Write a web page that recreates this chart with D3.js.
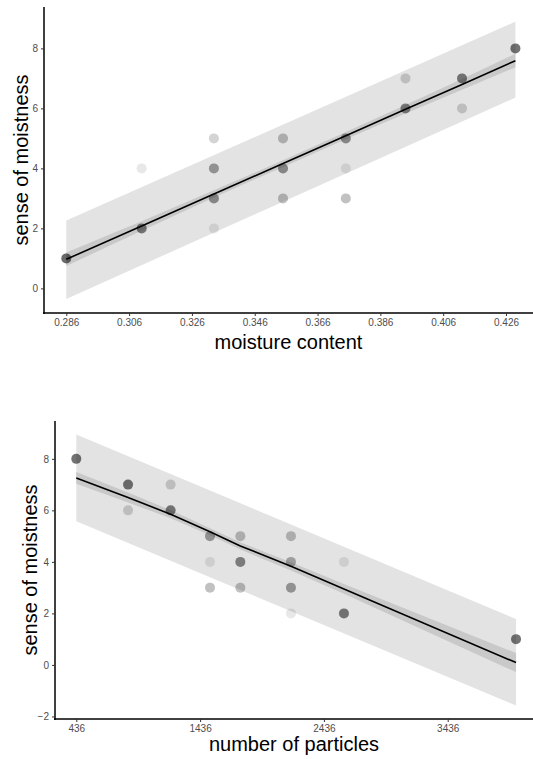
<!DOCTYPE html>
<html>
<head>
<meta charset="utf-8">
<script src="https://cdn.jsdelivr.net/npm/d3@7"></script>
<style>
  body { margin: 0; background: #fff; }
  svg { display: block; font-family: "Liberation Sans", Arial, sans-serif; }
</style>
</head>
<body>
<svg id="chart" width="533" height="759"></svg>
<script>
// ---- data: moisture content panel ----
var moistX     = [0.286, 0.310, 0.310, 0.333, 0.333, 0.333, 0.333, 0.355, 0.355, 0.355, 0.375, 0.375, 0.375, 0.394, 0.394, 0.412, 0.412, 0.429];
var moistY     = [1, 2, 4, 5, 4, 3, 2, 5, 4, 3, 5, 4, 3, 7, 6, 7, 6, 8];
var moistN     = [10, 8, 1, 2, 5, 6, 1, 3, 6, 3, 6, 1, 3, 2, 7, 8, 2, 9];
var moistFitX  = [0.286, 0.310, 0.333, 0.355, 0.375, 0.394, 0.412, 0.429];
var moistFit   = [0.97, 2.08, 3.15, 4.16, 5.09, 5.97, 6.80, 7.59];
var moistCiLo  = [0.75, 1.92, 3.03, 4.05, 4.97, 5.83, 6.62, 7.37];
var moistCiHi  = [1.20, 2.24, 3.27, 4.27, 5.21, 6.11, 6.98, 7.82];
var moistPiX   = [0.286, 0.429];
var moistPiLo  = [-0.35, 6.36];
var moistPiHi  = [2.26, 8.89];
var moistTicks = [0.286, 0.306, 0.326, 0.346, 0.366, 0.386, 0.406, 0.426];

// ---- data: number of particles panel ----
var partX      = [436, 854, 854, 1198, 1198, 1516, 1516, 1516, 1761, 1761, 1761, 2170, 2170, 2170, 2170, 2598, 2598, 3988];
var partY      = [8, 7, 6, 7, 6, 5, 4, 3, 5, 4, 3, 5, 4, 3, 2, 4, 2, 1];
var partN      = [9, 9, 2, 2, 8, 5, 1, 3, 3, 7, 3, 3, 4, 5, 1, 1, 8, 9];
var partFitX   = [436, 854, 1198, 1516, 1761, 2170, 2598, 3988];
var partFit    = [7.26, 6.50, 5.85, 5.17, 4.62, 3.83, 2.95, 0.09];
var partCiLo   = [7.03, 6.31, 5.69, 5.03, 4.48, 3.67, 2.76, -0.28];
var partCiHi   = [7.49, 6.69, 6.01, 5.31, 4.76, 3.99, 3.14, 0.46];
var partPiX    = [436, 3988];
var partPiLo   = [5.58, -1.58];
var partPiHi   = [8.95, 1.78];
var partTicks  = [436, 1436, 2436, 3436];

var svg = d3.select("#chart");

function drawPanel(p) {
    var x = d3.scaleLinear().domain(p.xDomain).range([p.left, 533]);
    var y = d3.scaleLinear().domain(p.yDomain).range([p.bottom, p.top]);
    var g = svg.append("g");

    // prediction band
    var piArea = d3.area()
        .x(function(d, i) { return x(p.piX[i]); })
        .y0(function(d, i) { return y(p.piLo[i]); })
        .y1(function(d, i) { return y(p.piHi[i]); });
    g.append("path").datum(p.piX).attr("d", piArea).attr("fill", "#e3e3e3");

    // confidence band
    var ciArea = d3.area()
        .x(function(d, i) { return x(p.fitX[i]); })
        .y0(function(d, i) { return y(p.ciLo[i]); })
        .y1(function(d, i) { return y(p.ciHi[i]); });
    g.append("path").datum(p.fitX).attr("d", ciArea).attr("fill", "#c9c9c9");

    // points, darker where more answers overlap
    g.selectAll("circle")
        .data(p.xs)
        .enter()
        .append("circle")
        .attr("cx", function(d) { return x(d); })
        .attr("cy", function(d, i) { return y(p.ys[i]); })
        .attr("r", 5)
        .attr("fill", "#1a1a1a")
        .attr("fill-opacity", function(d, i) { return 1 - Math.pow(0.9, p.ns[i]); });

    // fitted line
    var line = d3.line()
        .x(function(d, i) { return x(p.fitX[i]); })
        .y(function(d, i) { return y(p.fit[i]); });
    g.append("path").datum(p.fitX).attr("d", line)
        .attr("fill", "none").attr("stroke", "#000").attr("stroke-width", 1.6);

    // axes
    var xAxis = g.append("g")
        .attr("transform", "translate(0," + p.bottom + ")")
        .call(d3.axisBottom(x).tickValues(p.xTicks).tickFormat(p.xFormat).tickSize(3).tickPadding(3));
    var yAxis = g.append("g")
        .attr("transform", "translate(" + p.left + ",0)")
        .call(d3.axisLeft(y).tickValues(p.yTicks).tickFormat(d3.format("d")).tickSize(3).tickPadding(3));
    [xAxis, yAxis].forEach(function(a) {
        a.select(".domain").attr("stroke", "#000").attr("stroke-width", 1.5);
        a.selectAll(".tick line").attr("stroke", "#333");
        a.selectAll(".tick text").attr("fill", "#4d4d4d").style("font-size", "10px")
            .style("font-family", "'Liberation Sans', Arial, sans-serif");
    });
    xAxis.select(".domain").attr("d", "M" + (p.left - 1) + ",0H533");
    yAxis.select(".domain").attr("d", "M0," + p.top + "V" + (p.bottom + 1));

    // titles
    g.append("text")
        .attr("x", (p.left + 533) / 2)
        .attr("y", p.xTitleY)
        .attr("text-anchor", "middle")
        .style("font-size", "20px")
        .attr("fill", "#000")
        .text(p.xTitle);
    g.append("text")
        .attr("transform", "translate(" + p.yTitleX + "," + ((p.top + p.bottom) / 2) + ") rotate(-90)")
        .attr("text-anchor", "middle")
        .style("font-size", "20px")
        .attr("fill", "#000")
        .text("sense of moistness");
}

drawPanel({
    left: 44, top: 7, bottom: 313,
    xDomain: [0.2789, 0.4346], yDomain: [-0.82, 9.38],
    xs: moistX, ys: moistY, ns: moistN,
    fitX: moistFitX, fit: moistFit, ciLo: moistCiLo, ciHi: moistCiHi,
    piX: moistPiX, piLo: moistPiLo, piHi: moistPiHi,
    xTicks: moistTicks, yTicks: [0, 2, 4, 6, 8], xFormat: d3.format(".3f"),
    xTitle: "moisture content", xTitleY: 349, yTitleX: 28
});

drawPanel({
    left: 55, top: 421, bottom: 719,
    xDomain: [264, 4125], yDomain: [-2.1, 9.47],
    xs: partX, ys: partY, ns: partN,
    fitX: partFitX, fit: partFit, ciLo: partCiLo, ciHi: partCiHi,
    piX: partPiX, piLo: partPiLo, piHi: partPiHi,
    xTicks: partTicks, yTicks: [-2, 0, 2, 4, 6, 8], xFormat: d3.format("d"),
    xTitle: "number of particles", xTitleY: 751, yTitleX: 37
});
</script>
</body>
</html>
